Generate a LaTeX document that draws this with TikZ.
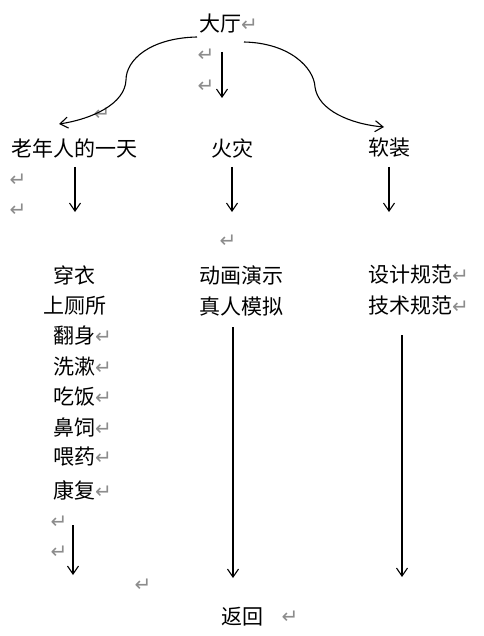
\documentclass[tikz,border=0pt]{standalone}
\usepackage{fontspec}
\setmainfont{Noto Sans CJK SC}
\newfontfamily\symfont{DejaVu Sans}
\usetikzlibrary{arrows.meta}
\definecolor{markgray}{gray}{0.55}
\newcommand{\rmk}{{\symfont\fontsize{20}{20}\selectfont\textcolor{markgray}{↵}}}
\begin{document}
\begin{tikzpicture}[x=1pt,y=-1pt,
  lbl/.style={anchor=west,inner sep=0pt,font=\fontsize{21}{22}\selectfont},
  retmark/.style={inner sep=0pt,font=\symfont\fontsize{20}{20}\selectfont,text=markgray},
  arr/.style={line width=1.1pt,-{Straight Barb[length=8pt,width=11pt,line width=1.1pt]}}]
\useasboundingbox[fill=white] (0,0) rectangle (483,636);
% text nodes
\node[lbl] (hall) at (199,24) {大厅\rmk};
\node[lbl] (old) at (11,148) {老年人的一天};
\node[lbl] (fire) at (211,148) {火灾};
\node[lbl] (soft) at (368,148) {软装};
\node[lbl] (c1) at (53,275) {穿衣};
\node[lbl] (c2) at (43,306) {上厕所};
\node[lbl] (c3) at (53,336) {翻身\rmk};
\node[lbl] (c4) at (53,367) {洗漱\rmk};
\node[lbl] (c5) at (53,397) {吃饭\rmk};
\node[lbl] (c6) at (53,427) {鼻饲\rmk};
\node[lbl] (c7) at (53,457) {喂药\rmk};
\node[lbl] (c8) at (53,490) {康复\rmk};
\node[lbl] (f1) at (199,275) {动画演示};
\node[lbl] (f2) at (199,306) {真人模拟};
\node[lbl] (s1) at (368,275) {设计规范\rmk};
\node[lbl] (s2) at (368,306) {技术规范\rmk};
\node[lbl] (back) at (221,617) {返回};
% paragraph marks
\node[retmark] (r1) at (206,55) {↵};
\node[retmark] (r2) at (206,86) {↵};
\node[retmark] (r3) at (102,114) {↵};
\node[retmark] (r4) at (18,180) {↵};
\node[retmark] (r5) at (18,210) {↵};
\node[retmark] (r6) at (228,241) {↵};
\node[retmark] (r7) at (59,522) {↵};
\node[retmark] (r8) at (59,552) {↵};
\node[retmark] (r9) at (143,585) {↵};
\node[retmark] (r10) at (290,617) {↵};
% connector endpoints
\coordinate (lcS) at (197,37);
\coordinate (lcE) at (59,124);
\coordinate (rcS) at (244,42);
\coordinate (rcE) at (384,127);
\coordinate (mS) at (222,52);
\coordinate (mE) at (222,98);
\coordinate (a1S) at (75,167);
\coordinate (a1E) at (75,212);
\coordinate (a2S) at (232,167);
\coordinate (a2E) at (232,212);
\coordinate (a3S) at (389,167);
\coordinate (a3E) at (389,212);
\coordinate (b1S) at (73,525);
\coordinate (b1E) at (73,575);
\coordinate (b2S) at (233,327);
\coordinate (b2E) at (233,578);
\coordinate (b3S) at (402,335);
\coordinate (b3E) at (402,577);
% connectors
\draw[arr] (lcS) .. controls (150,38) and (126,60) .. (126,80) .. controls (125,104) and (92,119) .. (lcE);
\draw[arr] (rcS) .. controls (290,43) and (314,68) .. (315,87) .. controls (318,110) and (350,124) .. (rcE);
\draw[arr] (mS) -- (mE);
\draw[arr] (a1S) -- (a1E);
\draw[arr] (a2S) -- (a2E);
\draw[arr] (a3S) -- (a3E);
\draw[arr] (b1S) -- (b1E);
\draw[arr] (b2S) -- (b2E);
\draw[arr] (b3S) -- (b3E);
\end{tikzpicture}
\end{document}
